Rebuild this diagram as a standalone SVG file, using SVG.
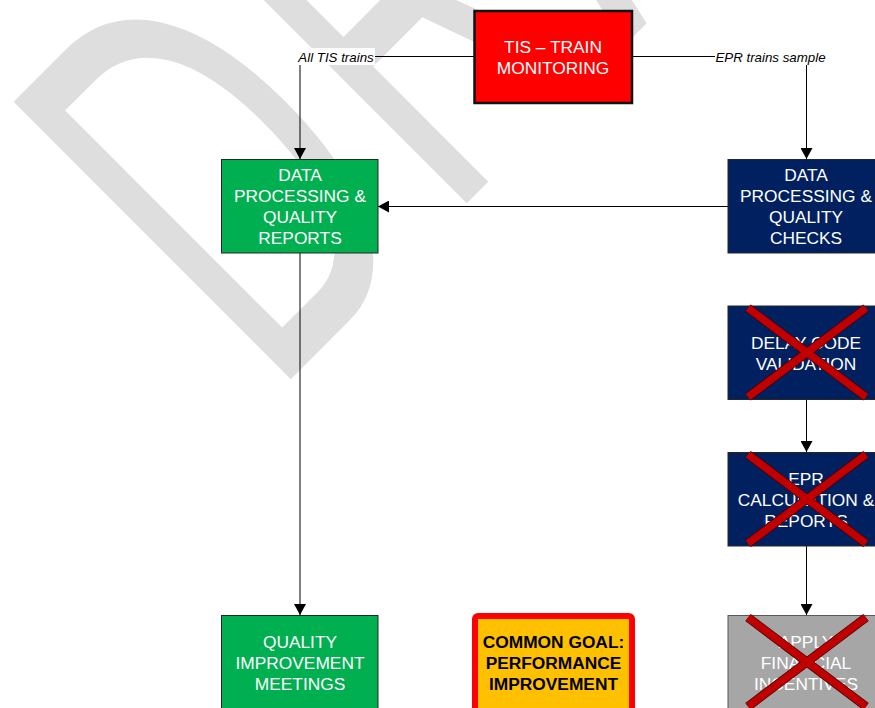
<svg xmlns="http://www.w3.org/2000/svg" width="875" height="708" viewBox="0 0 875 708">
<defs>
<style>
.bg{fill:#ffffff}
.wm{font-family:"Liberation Sans",Arial,sans-serif;font-size:570px;fill:#dedede}
.box{stroke:#262626;stroke-width:1}
.t{font-family:"Liberation Sans",Arial,sans-serif;font-size:17.33px;text-anchor:middle;fill:#ffffff}
.tb{font-family:"Liberation Sans",Arial,sans-serif;font-size:17.33px;font-weight:bold;text-anchor:middle;fill:#000000}
.lbl{font-family:"Liberation Sans",Arial,sans-serif;font-size:13.3px;font-style:italic;text-anchor:middle;fill:#000000}
.c{fill:none;stroke:#000000;stroke-width:1}
.xo{stroke:#400000;stroke-width:9;stroke-linecap:butt}
.xi{stroke:#c00000;stroke-width:7.5;stroke-linecap:butt}
</style>
<marker id="ah" markerUnits="userSpaceOnUse" markerWidth="11" markerHeight="12" viewBox="0 0 11 12" refX="11" refY="6" orient="auto">
<path d="M0,0 L11,6 L0,12 Z" fill="#000000"/>
</marker>
</defs>
<rect class="bg" x="0" y="0" width="875" height="708"/>
<g id="watermark">
<text class="wm" transform="translate(272,398) rotate(-45) scale(0.57,1)" x="0" y="0" letter-spacing="25">DRAFT</text>
</g>
<g id="connectors">
<path class="c" d="M474,56.5 H300 V159" marker-end="url(#ah)"/>
<path class="c" d="M632,56.5 H806.5 V159" marker-end="url(#ah)"/>
<path class="c" d="M728,206.5 H378" marker-end="url(#ah)"/>
<path class="c" d="M300,253 V615" marker-end="url(#ah)"/>
<path class="c" d="M806.5,400 V452" marker-end="url(#ah)"/>
<path class="c" d="M806.5,546 V615" marker-end="url(#ah)"/>
<rect class="bg" x="298" y="48" width="77" height="17"/>
<text class="lbl" x="336" y="61.5">All TIS trains</text>
<rect class="bg" x="715" y="48" width="112" height="17"/>
<text class="lbl" x="770.5" y="61.5">EPR trains sample</text>
</g>
<g id="tis">
<rect x="474.5" y="11" width="157.5" height="92" fill="#ff0000" stroke="#111111" stroke-width="2.5"/>
<text class="t" x="553" y="52.5">TIS – TRAIN</text>
<text class="t" x="553" y="73.5">MONITORING</text>
</g>
<g id="dp-reports">
<rect class="box" x="221.5" y="159.5" width="156.5" height="93.5" fill="#00b050"/>
<text class="t" x="300" y="180.5">DATA</text>
<text class="t" x="300" y="201.5">PROCESSING &amp;</text>
<text class="t" x="300" y="222.5">QUALITY</text>
<text class="t" x="300" y="243.5">REPORTS</text>
</g>
<g id="dp-checks">
<rect class="box" x="728" y="159.5" width="157" height="93.5" fill="#002060"/>
<text class="t" x="806" y="180.5">DATA</text>
<text class="t" x="806" y="201.5">PROCESSING &amp;</text>
<text class="t" x="806" y="222.5">QUALITY</text>
<text class="t" x="806" y="243.5">CHECKS</text>
</g>
<g id="delay-code">
<rect class="box" x="728" y="306" width="157" height="93.5" fill="#002060"/>
<text class="t" x="806" y="348.5">DELAY CODE</text>
<text class="t" x="806" y="369.5">VALIDATION</text>
<line class="xo" x1="748" y1="308" x2="866" y2="397"/>
<line class="xo" x1="866" y1="308" x2="748" y2="397"/>
<line class="xi" x1="748" y1="308" x2="866" y2="397"/>
<line class="xi" x1="866" y1="308" x2="748" y2="397"/>
</g>
<g id="epr-calc">
<rect class="box" x="728" y="452.5" width="157" height="93.5" fill="#002060"/>
<text class="t" x="806" y="484.5">EPR</text>
<text class="t" x="806" y="505.5">CALCULATION &amp;</text>
<text class="t" x="806" y="526.5">REPORTS</text>
<line class="xo" x1="748" y1="454.5" x2="866" y2="543.5"/>
<line class="xo" x1="866" y1="454.5" x2="748" y2="543.5"/>
<line class="xi" x1="748" y1="454.5" x2="866" y2="543.5"/>
<line class="xi" x1="866" y1="454.5" x2="748" y2="543.5"/>
</g>
<g id="apply-incentives">
<rect x="728" y="615.5" width="157" height="93.5" fill="#a6a6a6" stroke="#595959" stroke-width="1"/>
<text class="t" x="806" y="648" fill="#f2f2f2">APPLY</text>
<text class="t" x="806" y="669" fill="#f2f2f2">FINANCIAL</text>
<text class="t" x="806" y="690" fill="#f2f2f2">INCENTIVES</text>
<line class="xo" x1="748" y1="617.5" x2="866" y2="706.5"/>
<line class="xo" x1="866" y1="617.5" x2="748" y2="706.5"/>
<line class="xi" x1="748" y1="617.5" x2="866" y2="706.5"/>
<line class="xi" x1="866" y1="617.5" x2="748" y2="706.5"/>
</g>
<g id="quality-meetings">
<rect class="box" x="221.5" y="615.5" width="156.5" height="93.5" fill="#00b050"/>
<text class="t" x="300" y="647.5">QUALITY</text>
<text class="t" x="300" y="668.5">IMPROVEMENT</text>
<text class="t" x="300" y="689.5">MEETINGS</text>
</g>
<g id="common-goal">
<rect x="475" y="616" width="157" height="100" rx="3" ry="3" fill="#ffc000" stroke="#ff0000" stroke-width="6"/>
<text class="tb" x="553.5" y="647.5">COMMON GOAL:</text>
<text class="tb" x="553.5" y="668.5">PERFORMANCE</text>
<text class="tb" x="553.5" y="689.5">IMPROVEMENT</text>
</g>
</svg>
